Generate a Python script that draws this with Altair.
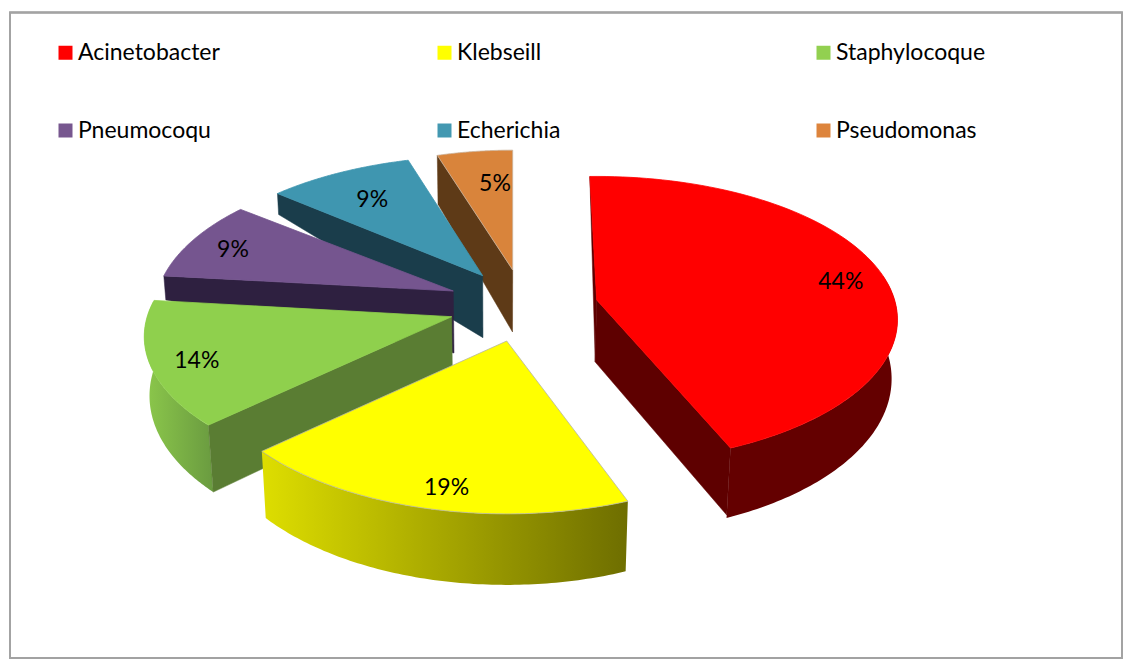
import numpy as np
import pandas as pd
import altair as alt

# Bacterial isolates and their share of the total, in percent
NAMES = ["Acinetobacter", "Klebseill", "Staphylocoque", "Pneumocoqu", "Echerichia", "Pseudomonas"]
SHARES = [44, 19, 14, 9, 9, 5]

# Colours of the top faces and of the walls
TOP_COLORS = ["#ff0000", "#ffff00", "#8fd04d", "#75558f", "#3f96b0", "#d9843b"]
INNER_COLORS = ["#5e0000", "#6e6e00", "#5a7d33", "#2e2040", "#1a3d4b", "#5e3a17"]
LEGEND_COLORS = ["#ff0000", "#ffff00", "#92d050", "#77578f", "#4398b1", "#dd843c"]
EDGE_COLORS = ["#ff0000", "#b5b5a0", "#8fd04d", "#75558f", "#3f96b0", "#c9b39c"]

# The legend fills column by column, so its entries are listed that way
LEGEND_ORDER = [0, 3, 1, 4, 2, 5]

# Exploded-slice layout: tip of each wedge, radial stretch, small turn, rim drop, label placement
TIPS = [(596.7, 300), (506.7, 341), (451.7, 316.7), (453.3, 291), (482.7, 275.7), (512.7, 270)]
STRETCH_X = [0.993, 1.0, 1.015, 0.985, 0.99, 0.92]
STRETCH_Y = [0.99, 1.05, 1.0, 1.0, 0.96, 0.96]
TURN = [0, 2.5, 1, 0.5, 3, 1.5]
RIM_DROP = [0, 0, 67, 24, 21, 49]
LABEL_AT = [0.855, 0.86, 0.85, 0.85, 0.76, 0.74]
LABEL_TURN = [1, -1.7, 0, 1, 0.5, 3.5]

RADIUS_X, RADIUS_Y, PERSPECTIVE, START_ANGLE = 300, 142, 0.1376, -1.5
TIP_DROP = 62

x_scale = alt.Scale(domain=[0, 1132], nice=False, zero=False)
y_scale = alt.Scale(domain=[660, 0], nice=False, zero=False)


def project(i, deg, reach=1.0):
    """Project a point of slice i from the tilted pie plane onto the page."""
    a = np.radians(deg)
    px, py = reach * np.sin(a), reach * np.cos(a)
    w = 1 + PERSPECTIVE * py
    return (
        TIPS[i][0] + STRETCH_X[i] * RADIUS_X * px / w,
        TIPS[i][1] - STRETCH_Y[i] * RADIUS_Y * py / w,
        py,
    )


def drop(x, y, h):
    """Lower a top-face point by wall height h; deeper points lean towards the middle."""
    return x - 0.016 * (x - 500) * h / 65, y + h


def polygon(points, **mark):
    frame = pd.DataFrame(points, columns=["x", "y"])
    frame["i"] = range(len(frame))
    return alt.Chart(frame).mark_line(interpolate="linear", **mark).encode(
        x=alt.X("x:Q", scale=x_scale, axis=None),
        y=alt.Y("y:Q", scale=y_scale, axis=None),
        order=alt.Order("i:Q"),
    )


def closed(points):
    return points + [points[0]]


# Angular extent of every slice, from the shares
edges = START_ANGLE + np.cumsum([0] + SHARES) * 3.6
spans = [(edges[k] + TURN[k], edges[k + 1] + TURN[k]) for k in range(len(SHARES))]


def rim(i, a, b):
    return [project(i, t) for t in np.linspace(a, b, 90)]


def outer_wall(i, a, b, fill):
    top = rim(i, a, b)
    upper = [(x, y) for x, y, _ in top]
    lower = [drop(x, y, 58 - 13 * py) for x, y, py in top]
    return polygon(closed(upper + lower[::-1]), fill=fill, stroke=None, strokeWidth=0)


def inner_wall(i, deg, rim_h, color):
    x, y, _ = project(i, deg)
    tx, ty = TIPS[i]
    pts = [(x, y), drop(x, y, rim_h), drop(tx, ty, TIP_DROP), (tx, ty)]
    return polygon(closed(pts), fill=color, stroke=color, strokeWidth=0.5)


def top_face(i):
    a, b = spans[i]
    pts = [TIPS[i]] + [(x, y) for x, y, _ in rim(i, a, b)]
    return polygon(closed(pts), fill=TOP_COLORS[i], stroke=EDGE_COLORS[i], strokeWidth=0.8)


def side_gradient(left, right):
    return alt.LinearGradient(
        gradient="linear",
        x1=0, x2=1, y1=0, y2=0,
        stops=[alt.GradientStop(color=left, offset=0), alt.GradientStop(color=right, offset=1)],
    )


layers = []

# Back slices first, front slices over them
for i in (5, 4, 3):
    layers += [inner_wall(i, spans[i][0], RIM_DROP[i], INNER_COLORS[i]), top_face(i)]

layers += [
    outer_wall(2, spans[2][0], spans[2][0] + 50, side_gradient("#8cc84b", "#6a9b40")),
    inner_wall(2, spans[2][0], RIM_DROP[2], INNER_COLORS[2]),
    top_face(2),
]
layers += [
    outer_wall(1, spans[1][0], spans[1][1], side_gradient("#dede00", "#6e6e00")),
    top_face(1),
]
layers += [
    inner_wall(0, spans[0][0], RIM_DROP[0], INNER_COLORS[0]),
    outer_wall(0, 80, spans[0][1], "#640000"),
    inner_wall(0, spans[0][1], 67, INNER_COLORS[0]),
    top_face(0),
]

# Percentage labels, placed along each slice's middle direction
labels = pd.DataFrame(
    [
        dict(
            zip(("x", "y"), project(i, (spans[i][0] + spans[i][1]) / 2 + LABEL_TURN[i], LABEL_AT[i])[:2]),
            text=f"{SHARES[i]}%",
        )
        for i in range(len(SHARES))
    ]
)
layers.append(
    alt.Chart(labels).mark_text(font="Lato", fontSize=23, color="#000000", dy=5).encode(
        x=alt.X("x:Q", scale=x_scale, axis=None),
        y=alt.Y("y:Q", scale=y_scale, axis=None),
        text="text:N",
    )
)

# Legend in three columns and two rows
legend_names = [NAMES[k] for k in LEGEND_ORDER]
legend_colors = [LEGEND_COLORS[k] for k in LEGEND_ORDER]
legend_table = pd.DataFrame({"name": NAMES})
layers.append(
    alt.Chart(legend_table).mark_square(size=0, opacity=1).encode(
        x=alt.value(0),
        y=alt.value(0),
        color=alt.Color(
            "name:N",
            sort=legend_names,
            scale=alt.Scale(domain=legend_names, range=legend_colors),
            legend=alt.Legend(
                title=None,
                orient="none",
                legendX=54,
                legendY=41,
                columns=3,
                gridAlign="all",
                columnPadding=205,
                rowPadding=54,
                padding=0,
                symbolType="square",
                symbolSize=196,
                symbolStrokeWidth=0,
                labelFont="Lato",
                labelFontSize=23,
                labelColor="#000000",
                labelOffset=1,
                labelLimit=300,
            ),
        ),
    )
)

# Chart frame
layers.append(
    alt.Chart(legend_table).mark_rect(filled=False, stroke="#a3a3a3", strokeWidth=1.6).encode(
        x=alt.value(10), x2=alt.value(1122), y=alt.value(12.5), y2=alt.value(658)
    )
)

chart = (
    alt.layer(*layers)
    .resolve_scale(color="independent")
    .properties(width=1132, height=660, padding=0, autosize=alt.AutoSizeParams(type="none"), background="#ffffff")
    .configure_view(stroke=None)
)

chart.save("out.html", embed_options={"renderer": "svg", "actions": False})
